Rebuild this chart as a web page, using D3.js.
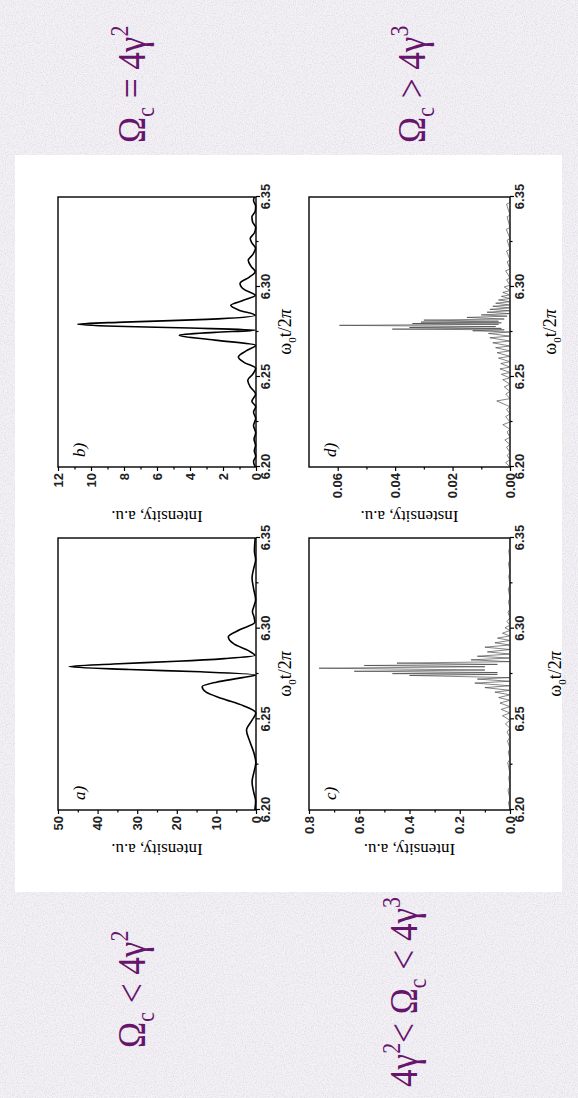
<!DOCTYPE html>
<html>
<head>
<meta charset="utf-8">
<script src="https://cdn.jsdelivr.net/npm/d3@7"></script>
<style>
  body { margin: 0; background: #ebe8ee; }
  svg { display: block; }
</style>
</head>
<body>
<div id="chart"></div>
<script>
// page size (the figure is drawn sideways, then turned a quarter left)
const W = 578, H = 1098;

// x axis, shared by the four panels
const xDomain = [6.20, 6.35];
const xMajor = [6.20, 6.25, 6.30, 6.35];
const xMinor = [6.225, 6.275, 6.325];

// y axes
const aYMajor = [0, 10, 20, 30, 40, 50];
const aYMinor = [5, 15, 25, 35, 45];
const bYMajor = [0, 2, 4, 6, 8, 10, 12];
const bYMinor = [1, 3, 5, 7, 9, 11];
const cYMajor = [0, 0.2, 0.4, 0.6, 0.8];
const cYMinor = [0.1, 0.3, 0.5, 0.7];
const dYMajor = [0, 0.02, 0.04, 0.06];
const dYMinor = [0.01, 0.03, 0.05];

// a) Omega_c < 4 gamma^2
const seriesA = [
  [6.200, 0.3], [6.205, 0.1], [6.210, 0.6], [6.2155, 1.0], [6.221, 0.5], [6.226, 0.05],
  [6.232, 0.6], [6.238, 1.6], [6.244, 2.4], [6.2495, 1.0], [6.2535, 0.05],
  [6.2575, 3.2], [6.2615, 8.6], [6.265, 12.6], [6.268, 13.6], [6.2705, 10.0], [6.273, 3.4],
  [6.2745, 0.1], [6.2762, 14], [6.2775, 32], [6.2791, 47.2], [6.2805, 36], [6.282, 20],
  [6.2835, 8], [6.2852, 0.3], [6.288, 2.0], [6.2915, 5.5], [6.2955, 7.0], [6.2995, 4.0],
  [6.3035, 0.3], [6.3065, 0.5], [6.3095, 0.9], [6.3125, 0.5], [6.316, 0.1], [6.322, 0.6],
  [6.328, 1.0], [6.333, 0.6], [6.338, 0.1], [6.343, 0.4], [6.350, 0.2]
];

// b) Omega_c = 4 gamma^2
const seriesB = [
  [6.200, 0.05], [6.203, 0.15], [6.206, 0.02], [6.209, 0.1], [6.212, 0.03], [6.2155, 0.12],
  [6.219, 0.02], [6.223, 0.15], [6.227, 0.02], [6.2305, 0.15], [6.2335, 0.02], [6.2365, 0.25],
  [6.2405, 0.02], [6.2445, 0.35], [6.2482, 0.5], [6.2515, 0.2], [6.2548, 0.02], [6.258, 0.7],
  [6.2611, 1.07], [6.2645, 0.6], [6.2676, 0.02], [6.2705, 2.5], [6.2732, 4.65], [6.2748, 2.5],
  [6.276, 0.05], [6.2772, 4.0], [6.2782, 8.5], [6.2793, 10.8], [6.2805, 8.0], [6.282, 3.0],
  [6.2843, 0.05], [6.287, 1.0], [6.2898, 1.53], [6.2925, 0.8], [6.2954, 0.05], [6.2985, 0.7],
  [6.302, 0.97], [6.3055, 0.4], [6.3085, 0.05], [6.3115, 0.3], [6.3148, 0.47], [6.318, 0.2],
  [6.3215, 0.03], [6.3245, 0.25], [6.3269, 0.35], [6.330, 0.1], [6.333, 0.02], [6.336, 0.2],
  [6.339, 0.25], [6.342, 0.05], [6.345, 0.02], [6.348, 0.15], [6.350, 0.1]
];

// c) 4 gamma^2 < Omega_c < 4 gamma^3
const seriesC = [
  [6.200, 0], [6.204, 0.006], [6.206, 0], [6.211, 0.008], [6.213, 0], [6.218, 0.005], [6.220, 0],
  [6.226, 0.009], [6.228, 0], [6.232, 0.007], [6.234, 0], [6.238, 0.01], [6.240, 0],
  [6.243, 0.012], [6.245, 0], [6.2475, 0.018], [6.2495, 0], [6.252, 0.03], [6.2535, 0],
  [6.2555, 0.035], [6.257, 0], [6.259, 0.04], [6.2605, 0], [6.262, 0.045], [6.2635, 0],
  [6.265, 0.06], [6.266, 0], [6.2675, 0.10], [6.2685, 0], [6.270, 0.14], [6.271, 0],
  [6.2722, 0.13], [6.273, 0], [6.2742, 0.40], [6.2748, 0.05], [6.2752, 0.468], [6.2758, 0.05],
  [6.2765, 0.62], [6.2772, 0.1], [6.2782, 0.76], [6.279, 0.1], [6.2797, 0.58], [6.2803, 0.05],
  [6.281, 0.45], [6.2818, 0], [6.2828, 0.155], [6.2838, 0], [6.2848, 0.13], [6.286, 0],
  [6.2872, 0.09], [6.2885, 0], [6.2898, 0.10], [6.291, 0], [6.2922, 0.06], [6.2935, 0],
  [6.2948, 0.05], [6.296, 0], [6.2975, 0.03], [6.299, 0], [6.3005, 0.02], [6.302, 0],
  [6.304, 0.012], [6.306, 0], [6.309, 0.008], [6.311, 0], [6.315, 0.006], [6.317, 0],
  [6.322, 0.007], [6.324, 0], [6.329, 0.005], [6.331, 0], [6.336, 0.006], [6.338, 0],
  [6.343, 0.005], [6.345, 0], [6.350, 0]
];

// d) Omega_c > 4 gamma^3
const seriesD = [
  [6.200, 0], [6.2025, 0.0015], [6.204, 0], [6.2065, 0.001], [6.208, 0], [6.211, 0.0012],
  [6.2125, 0], [6.215, 0.0018], [6.2165, 0], [6.2195, 0.001], [6.221, 0], [6.2235, 0.0025],
  [6.225, 0], [6.228, 0.0015], [6.2295, 0], [6.232, 0.0012], [6.2335, 0], [6.2367, 0.0046],
  [6.238, 0], [6.2405, 0.0015], [6.242, 0], [6.2445, 0.002], [6.246, 0], [6.2485, 0.0025],
  [6.2495, 0], [6.2515, 0.003], [6.2525, 0], [6.2545, 0.0035], [6.2555, 0], [6.2575, 0.0032],
  [6.2585, 0], [6.2605, 0.004], [6.2615, 0], [6.2635, 0.0045], [6.2645, 0], [6.2663, 0.005],
  [6.2672, 0], [6.269, 0.006], [6.270, 0], [6.2718, 0.007], [6.2727, 0], [6.2742, 0.0075],
  [6.275, 0], [6.2757, 0.013], [6.2762, 0.002], [6.2766, 0.041], [6.277, 0.003], [6.2775, 0.035],
  [6.278, 0.005], [6.2787, 0.0594], [6.2793, 0.004], [6.2797, 0.034], [6.2801, 0.003],
  [6.2805, 0.031], [6.281, 0.004], [6.2816, 0.030], [6.2822, 0.002], [6.2831, 0.015],
  [6.2838, 0.001], [6.2845, 0.010], [6.2852, 0], [6.286, 0.008], [6.2868, 0], [6.2876, 0.007],
  [6.2884, 0], [6.2893, 0.006], [6.290, 0], [6.291, 0.005], [6.2918, 0], [6.2928, 0.004],
  [6.2936, 0], [6.2948, 0.003], [6.2956, 0], [6.297, 0.0025], [6.298, 0], [6.300, 0.002],
  [6.301, 0], [6.304, 0.0012], [6.305, 0], [6.309, 0.0015], [6.310, 0], [6.314, 0.001],
  [6.315, 0], [6.320, 0.0012], [6.321, 0], [6.326, 0.001], [6.327, 0], [6.332, 0.0013],
  [6.333, 0], [6.339, 0.001], [6.340, 0], [6.346, 0.0012], [6.347, 0], [6.350, 0]
];

const xTickLabels = ["6.20", "6.25", "6.30", "6.35"];
const panelLetters = ["a)", "b)", "c)", "d)"];
const yTitles = ["Intensity, a.u.", "Intensity, a.u.", "Intensity, a.u.", "Instensity, a.u."];

const svg = d3.select("#chart").append("svg")
    .attr("width", W)
    .attr("height", H);

// textured page + white figure sheet (screen coordinates)
const defs = svg.append("defs");
const grain = defs.append("filter").attr("id", "grain").attr("x", 0).attr("y", 0).attr("width", 1).attr("height", 1);
grain.append("feTurbulence").attr("type", "fractalNoise").attr("baseFrequency", "0.9").attr("numOctaves", 2).attr("seed", 4);
grain.append("feColorMatrix").attr("type", "matrix")
    .attr("values", "0 0 0 0 0.62  0 0 0 0 0.58  0 0 0 0 0.68  0 0 0 -2.4 1.5");

svg.append("rect").attr("width", W).attr("height", H).attr("fill", "#f4f2f6");
svg.append("rect").attr("width", W).attr("height", H).attr("filter", "url(#grain)").attr("opacity", 0.45);
svg.append("rect").attr("x", 15).attr("y", 155).attr("width", 547).attr("height", 737).attr("fill", "#fff");

// everything else in the figure's own (upright) frame
const g = svg.append("g").attr("transform", `translate(0,${H}) rotate(-90)`);

const panels = [
  { data: seriesA, yMax: 50, major: aYMajor, minor: aYMinor, fmt: d3.format("d"),
    x0: 288, x1: 560, y0: 58, y1: 256, yTitleOff: 34, xTitleOff: 35, width: 1.6 },
  { data: seriesB, yMax: 12, major: bYMajor, minor: bYMinor, fmt: d3.format("d"),
    x0: 631, x1: 901, y0: 58, y1: 256, yTitleOff: 44, xTitleOff: 35, width: 1.6 },
  { data: seriesC, yMax: 0.8, major: cYMajor, minor: cYMinor, fmt: d3.format(".1f"),
    x0: 288, x1: 560, y0: 309, y1: 510, yTitleOff: 34, xTitleOff: 51, width: 0.6 },
  { data: seriesD, yMax: 0.07, major: dYMajor, minor: dYMinor, fmt: d3.format(".2f"),
    x0: 631, x1: 901, y0: 309, y1: 510, yTitleOff: 44, xTitleOff: 46, width: 0.6 }
];

panels.forEach((p, i) => {
  const x = d3.scaleLinear().domain(xDomain).range([p.x0, p.x1]);
  const y = d3.scaleLinear().domain([0, p.yMax]).range([p.y1, p.y0]);
  const pg = g.append("g");

  // frame
  pg.append("rect")
      .attr("x", p.x0).attr("y", p.y0)
      .attr("width", p.x1 - p.x0).attr("height", p.y1 - p.y0)
      .attr("fill", "none").attr("stroke", "#000").attr("stroke-width", 1.4);

  // x axis
  pg.append("g").attr("transform", `translate(0,${p.y1})`)
      .call(d3.axisBottom(x).tickValues(xMajor).tickSize(4).tickSizeOuter(0).tickPadding(1)
        .tickFormat((d, k) => xTickLabels[k]));
  pg.append("g").attr("transform", `translate(0,${p.y1})`)
      .call(d3.axisBottom(x).tickValues(xMinor).tickSize(2.5).tickSizeOuter(0).tickFormat(""));

  // y axis
  pg.append("g").attr("transform", `translate(${p.x0},0)`)
      .call(d3.axisLeft(y).tickValues(p.major).tickSize(4).tickSizeOuter(0).tickPadding(2)
        .tickFormat(p.fmt));
  pg.append("g").attr("transform", `translate(${p.x0},0)`)
      .call(d3.axisLeft(y).tickValues(p.minor).tickSize(2.5).tickSizeOuter(0).tickFormat(""));

  pg.selectAll(".domain").remove();
  pg.selectAll(".tick line").attr("stroke", "#000").attr("stroke-width", 1.2);
  pg.selectAll(".tick text")
      .attr("font-family", "Liberation Sans, Arial, sans-serif")
      .attr("font-size", 13)
      .attr("font-weight", "bold")
      .attr("fill", "#222");

  // curve
  const line = d3.line()
      .x(d => x(d[0]))
      .y(d => y(d[1]))
      .curve(i < 2 ? d3.curveMonotoneX : d3.curveLinear);
  pg.append("path")
      .datum(p.data)
      .attr("d", line)
      .attr("fill", "none")
      .attr("stroke", i < 2 ? "#000" : "#333")
      .attr("stroke-width", p.width)
      .attr("stroke-linejoin", "round");

  // panel letter
  pg.append("text")
      .attr("x", p.x0 + 10).attr("y", p.y0 + 27)
      .attr("font-family", "Liberation Serif, Times New Roman, serif")
      .attr("font-style", "italic")
      .attr("font-size", 17)
      .text(panelLetters[i]);

  // y title
  pg.append("text")
      .attr("transform", `translate(${p.x0 - p.yTitleOff},${(p.y0 + p.y1) / 2}) rotate(-90)`)
      .attr("text-anchor", "middle")
      .attr("font-family", "Liberation Serif, Times New Roman, serif")
      .attr("font-size", 17)
      .text(yTitles[i]);

  // x title: omega_0 t / 2 pi
  const xt = pg.append("text")
      .attr("x", (p.x0 + p.x1) / 2).attr("y", p.y1 + p.xTitleOff)
      .attr("text-anchor", "middle")
      .attr("font-family", "Liberation Serif, Times New Roman, serif")
      .attr("font-size", 18);
  xt.append("tspan").text("ω");
  xt.append("tspan").attr("font-size", 11).attr("dy", 5).text("0");
  xt.append("tspan").attr("dy", -5).text("t/2");
  xt.append("tspan").attr("font-style", "italic").text("π");
});

// regime captions (purple)
const captions = [
  { x: 50, y: 145, parts: [["Ω", 0], ["c", 1], [" < 4γ", 0], ["2", -1]] },
  { x: 955, y: 145, parts: [["Ω", 0], ["c", 1], [" = 4γ", 0], ["2", -1]] },
  { x: 11, y: 417, parts: [["4γ", 0], ["2", -1], ["< Ω", 0], ["c", 1], [" < 4γ", 0], ["3", -1]] },
  { x: 955, y: 425, parts: [["Ω", 0], ["c", 1], [" > 4γ", 0], ["3", -1]] }
];
const capSize = 40;
captions.forEach(c => {
  const t = g.append("text")
      .attr("transform", `translate(${c.x},${c.y}) scale(0.88,1)`)
      .attr("font-family", "Liberation Serif, Times New Roman, serif")
      .attr("font-size", capSize)
      .attr("fill", "#66146c");
  let shift = 0;
  c.parts.forEach(([s, pos]) => {
    const target = pos === 1 ? capSize * 0.22 : pos === -1 ? -capSize * 0.42 : 0;
    t.append("tspan")
        .attr("dy", target - shift)
        .attr("font-size", pos === 0 ? capSize : capSize * 0.62)
        .text(s);
    shift = target;
  });
});
</script>
</body>
</html>
